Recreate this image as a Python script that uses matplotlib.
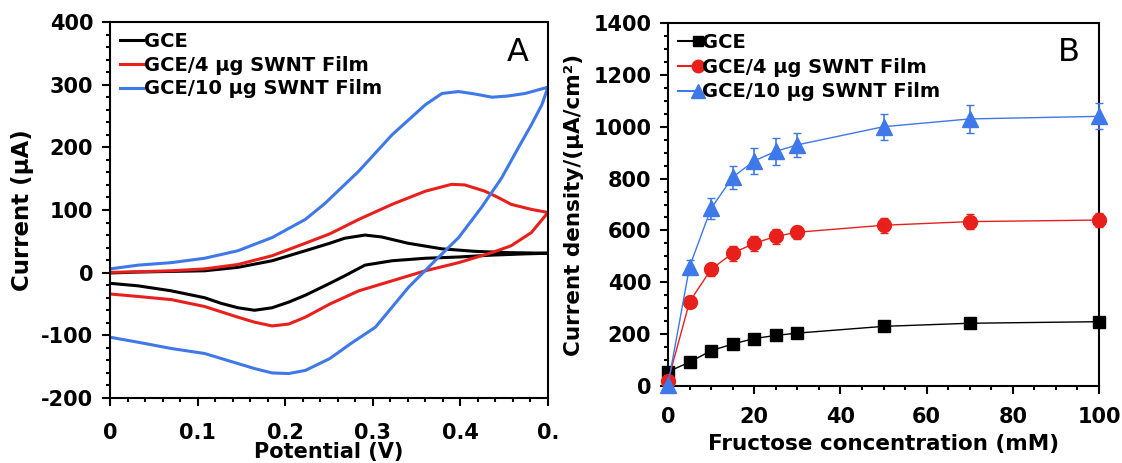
import numpy as np
import matplotlib.pyplot as plt
from matplotlib.lines import Line2D
from matplotlib.legend_handler import HandlerLine2D
from matplotlib.ticker import MultipleLocator

plt.rcParams['font.family'] = ['DejaVu Sans']
plt.rcParams['font.weight'] = 'bold'
plt.rcParams['axes.unicode_minus'] = False

# Panel A: cyclic voltammograms, forward scan 0 -> 0.5 V then reverse 0.5 -> 0 V
gce_pot = [0, .032, .070, .108, .146, .185, .223, .251, .268, .291, .310, .340, .379, .417, .455, .5,
           .474, .436, .398, .360, .322, .291, .268, .251, .223, .204, .185, .165, .146, .127, .108, .070, .032, 0]
gce_cur = [-0.5, 1, 2, 3, 8.5, 19, 35, 47, 55, 60, 57, 47, 38, 34, 32, 31,
           30, 28, 25, 23, 19, 12, -5, -17, -36, -47, -56, -60, -56, -49, -40, -29, -21, -17]

swnt4_pot = [0, .032, .070, .108, .146, .185, .223, .251, .284, .322, .360, .390, .405, .428, .443, .458, .481, .5,
             .481, .458, .436, .398, .360, .322, .284, .251, .223, .204, .185, .165, .146, .108, .070, .032, 0]
swnt4_cur = [0.5, 1.5, 3, 6, 13, 27, 47, 62, 85, 109, 130, 141, 140, 130, 120, 109, 101, 96,
             64, 43, 32, 16, 3, -13, -29, -50, -71, -82, -85, -79, -71, -54, -43, -38, -34]

swnt10_pot = [0, .032, .070, .108, .146, .185, .223, .245, .284, .322, .360, .379, .398, .417, .436, .455, .474, .5,
              .493, .481, .466, .447, .424, .398, .371, .341, .303, .275, .251, .223, .204, .185, .165, .146, .108,
              .070, .032, 0]
swnt10_cur = [6, 12, 16, 23, 35, 56, 85, 110, 162, 220, 268, 286, 289, 285, 280, 282, 286, 296,
              268, 236, 199, 151, 104, 56, 19, -23, -87, -113, -137, -156, -161, -160, -153, -145, -129,
              -121, -111, -103]

# Panel B: calibration against fructose concentration
conc = [0, 5, 10, 15, 20, 25, 30, 50, 70, 100]
j_gce = [55, 92, 136, 162, 183, 195, 204, 230, 242, 248]
j_gce_err = [8, 8, 10, 10, 10, 10, 10, 12, 12, 12]
j_swnt4 = [20, 325, 450, 512, 550, 577, 593, 620, 634, 640]
j_swnt4_err = [10, 22, 25, 28, 30, 28, 25, 28, 28, 28]
j_swnt10 = [5, 460, 685, 805, 868, 905, 930, 1000, 1030, 1040]
j_swnt10_err = [10, 25, 40, 45, 50, 52, 45, 50, 55, 50]

labels = ['GCE', 'GCE/4 μg SWNT Film', 'GCE/10 μg SWNT Film']
colors = ['black', '#e8201c', '#3f78e8']
markers = ['s', 'o', '^']
msizes = [8, 10, 11]


class EndMarkerHandler(HandlerLine2D):
    """Legend entry: short line with the marker sitting at its right end."""

    def create_artists(self, legend, orig_handle, xdescent, ydescent,
                       width, height, fontsize, trans):
        y = (height - ydescent) / 2
        x0, x1 = -xdescent, -xdescent + width
        line = Line2D([x0, x1], [y, y])
        self.update_prop(line, orig_handle, legend)
        line.set_marker('None')
        mk = Line2D([x1 - 2], [y])
        self.update_prop(mk, orig_handle, legend)
        mk.set_linestyle('None')
        line.set_transform(trans)
        mk.set_transform(trans)
        return [line, mk]


fig = plt.figure(figsize=(11.22, 4.63), dpi=100)
axA = fig.add_axes([110 / 1122, 1 - 398 / 463, 438 / 1122, 376 / 463])
axB = fig.add_axes([668 / 1122, 1 - 386 / 463, 431 / 1122, 363 / 463])

for pot, cur, lab, c in zip([gce_pot, swnt4_pot, swnt10_pot],
                            [gce_cur, swnt4_cur, swnt10_cur], labels, colors):
    axA.plot(pot, cur, color=c, lw=2.2, label=lab, solid_joinstyle='round')

axA.set_xlim(0, 0.5)
axA.set_ylim(-200, 400)
axA.set_xticks([0, 0.1, 0.2, 0.3, 0.4, 0.5])
axA.set_xticklabels(['0', '0.1', '0.2', '0.3', '0.4', '0.'])
axA.xaxis.set_minor_locator(MultipleLocator(0.02))
axA.yaxis.set_major_locator(MultipleLocator(100))
axA.yaxis.set_minor_locator(MultipleLocator(20))
axA.set_xlabel('Potential (V)', fontsize=15, fontweight='bold', labelpad=-1)
axA.set_ylabel('Current (μA)', fontsize=16.5, fontweight='bold', labelpad=5)
axA.text(0.955, 0.92, 'A', transform=axA.transAxes, fontsize=23,
         fontweight='normal', ha='right', va='center')
axA.legend(loc='upper left', frameon=False, handlelength=1.2,
           handletextpad=0.05, borderaxespad=0.25, labelspacing=0.25,
           borderpad=0.25, prop={'weight': 'bold', 'size': 14})

for y, err, c, m, ms in zip([j_gce, j_swnt4, j_swnt10],
                            [j_gce_err, j_swnt4_err, j_swnt10_err],
                            colors, markers, msizes):
    axB.errorbar(conc, y, yerr=err, color=c, marker=m, markersize=ms, lw=1,
                 elinewidth=1.2, capsize=3, clip_on=False, zorder=3)

axB.set_xlim(0, 100)
axB.set_ylim(0, 1400)
axB.xaxis.set_major_locator(MultipleLocator(20))
axB.xaxis.set_minor_locator(MultipleLocator(5))
axB.yaxis.set_major_locator(MultipleLocator(200))
axB.yaxis.set_minor_locator(MultipleLocator(50))
axB.set_xlabel('Fructose concentration (mM)', fontsize=15.5, fontweight='bold', labelpad=5)
axB.set_ylabel('Current density/(μA/cm²)', fontsize=15.5, fontweight='bold', labelpad=7)
axB.text(0.955, 0.92, 'B', transform=axB.transAxes, fontsize=23,
         fontweight='normal', ha='right', va='center')
proxies = [Line2D([], [], color=c, marker=m, markersize=ms - 1, lw=1.5)
           for c, m, ms in zip(colors, markers, msizes)]
axB.legend(proxies, labels, loc='upper left', frameon=False, handlelength=1.2,
           handletextpad=0.05, borderaxespad=0.25, labelspacing=0.3,
           borderpad=0.25, prop={'weight': 'bold', 'size': 14},
           handler_map={Line2D: EndMarkerHandler()})

for ax in (axA, axB):
    for s in ax.spines.values():
        s.set_linewidth(1.5)
    ax.tick_params(which='both', direction='out', width=1.5, labelsize=15,
                   top=False, right=False)
    ax.tick_params(which='major', length=6)
    ax.tick_params(which='minor', length=3)
    ax.tick_params(axis='y', pad=6)
    for t in ax.get_xticklabels() + ax.get_yticklabels():
        t.set_fontweight('bold')
axA.tick_params(axis='x', pad=12)
axB.tick_params(axis='x', pad=9)

fig.savefig('out.png', dpi=100)
